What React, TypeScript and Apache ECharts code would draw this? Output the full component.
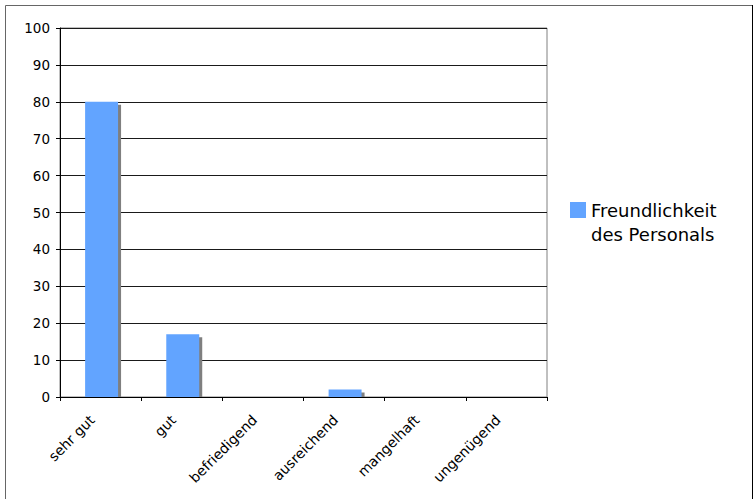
import React, { useEffect, useRef } from "react";
import * as echarts from "echarts";

const categories = ["sehr gut", "gut", "befriedigend", "ausreichend", "mangelhaft", "ungenügend"];
const values = [80, 17, 0, 2, 0, 0];
const seriesName = "Freundlichkeit des Personals";
const legendLines = ["Freundlichkeit", "des Personals"];
const yTicks = { min: 0, max: 100, interval: 10 };

const FONT = "'DejaVu Sans', Verdana, sans-serif";
const BAR = "#62a4ff";
const SHADOW = "#7f7f7f";

export default function App() {
  const ref = useRef<HTMLDivElement>(null);
  useEffect(() => {
    if (!ref.current) return;
    const chart = echarts.init(ref.current, undefined, { renderer: "svg" });
    chart.setOption({
      animation: false,
      backgroundColor: "#ffffff",
      textStyle: { fontFamily: FONT },
      grid: { left: 60, right: 207, top: 28, bottom: 102, show: true, borderColor: "#808080", borderWidth: 1, backgroundColor: "transparent" },
      graphic: [
        { type: "rect", shape: { x: 5.5, y: 5.5, width: 747, height: 500 }, style: { fill: "none", stroke: "#666", lineWidth: 1 }, z: -1, silent: true },
        { type: "line", shape: { x1: 752.5, y1: 5, x2: 752.5, y2: 499 }, style: { stroke: "#000", lineWidth: 1 }, silent: true },
      ],
      legend: {
        left: 570,
        top: 174,
        padding: 0,
        icon: "rect",
        itemWidth: 16,
        itemHeight: 16,
        data: [seriesName],
        formatter: () => [" "].concat(legendLines).join("\n"),
        itemStyle: { color: BAR },
        textStyle: { fontFamily: FONT, fontSize: 18, lineHeight: 24, color: "#000" },
      },
      xAxis: {
        type: "category",
        data: categories,
        boundaryGap: true,
        axisLine: { lineStyle: { color: "#000", width: 1 } },
        axisTick: { show: true, length: 4, alignWithLabel: false, lineStyle: { color: "#000" } },
        axisLabel: { rotate: 45, margin: 12, color: "#000", fontFamily: FONT, fontSize: 14, interval: 0, padding: [0, 12, 0, 0] },
        splitLine: { show: false },
      },
      yAxis: {
        type: "value",
        min: yTicks.min,
        max: yTicks.max,
        interval: yTicks.interval,
        axisLine: { show: true, lineStyle: { color: "#000", width: 1 } },
        axisTick: { show: true, length: 4, lineStyle: { color: "#000" } },
        axisLabel: { margin: 10, color: "#000", fontFamily: FONT, fontSize: 13.5 },
        splitLine: { show: true, lineStyle: { color: "#1a1a1a", width: 1 } },
      },
      series: [
        {
          type: "custom",
          name: seriesName,
          itemStyle: { color: BAR },
          encode: { x: 0, y: 1 },
          data: values.map((v, i) => [i, v]),
          renderItem: (params: any, api: any) => {
            const idx = api.value(0);
            const v = api.value(1);
            const top = api.coord([idx, v]);
            const base = api.coord([idx, 0]);
            const bw = api.size([1, 0])[0] * 0.406;
            const h = base[1] - top[1];
            if (h <= 0.5) return null;
            const x = top[0] - bw / 2 + 1;
            return {
              type: "group",
              children: [
                { type: "rect", shape: { x: x + 3, y: top[1] + 3, width: bw, height: Math.max(h - 3, 0) }, style: { fill: SHADOW } },
                { type: "rect", shape: { x, y: top[1], width: bw, height: h }, style: { fill: BAR } },
              ],
            };
          },
        },
      ],
    });
    return () => chart.dispose();
  }, []);
  return <div ref={ref} style={{ position: "fixed", left: 0, top: 0, width: 754, height: 499 }} />;
}
